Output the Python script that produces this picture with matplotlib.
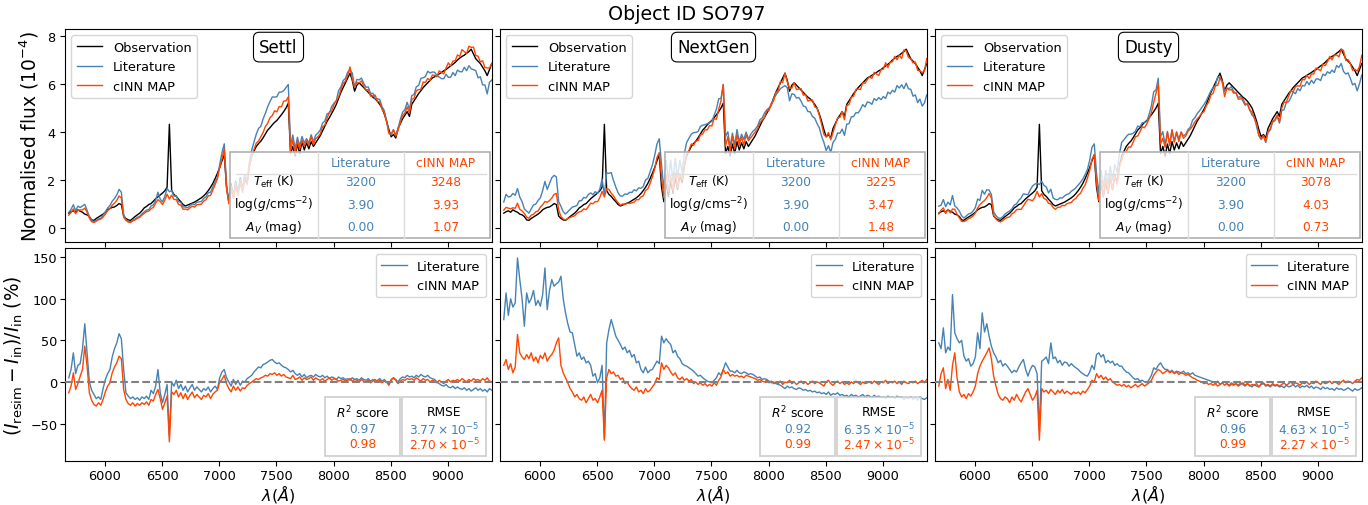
import numpy as np
import matplotlib
matplotlib.use("Agg")
import matplotlib.pyplot as plt
from matplotlib.patches import Rectangle
from matplotlib.lines import Line2D

# ---------------------------------------------------------------- data
# wavelength grid (Angstrom), 20 A steps
wavelength = np.arange(5683, 9384, 20)

# observed spectrum, normalised flux in units of 1e-4
obs_flux = [
    0.62, 0.68, 0.72, 0.66, 0.76, 0.70, 0.66, 0.58, 0.55, 0.48,
    0.34, 0.32, 0.40, 0.46, 0.52, 0.58, 0.66, 0.76, 0.82, 0.86,
    0.88, 0.94, 1.02, 0.98, 0.50, 0.40, 0.34, 0.32, 0.40, 0.48,
    0.55, 0.62, 0.72, 0.84, 0.90, 0.98, 1.02, 1.12, 1.22, 1.30,
    1.38, 1.46, 1.55, 1.70, 4.32, 1.56, 1.40, 1.32, 1.20, 1.10,
    0.98, 0.92, 0.96, 1.00, 1.04, 1.08, 1.14, 1.20, 1.26, 1.34,
    1.44, 1.56, 1.70, 1.86, 2.06, 2.28, 2.52, 2.80, 3.05, 1.70,
    1.10, 1.85, 1.30, 1.95, 1.45, 2.10, 1.60, 2.20, 1.90, 2.60,
    3.00, 3.20, 3.40, 3.52, 3.62, 3.76, 3.92, 4.08, 4.18, 4.30,
    4.40, 4.48, 4.60, 4.72, 4.85, 5.00, 5.20, 3.10, 3.40, 3.00,
    3.50, 3.10, 3.60, 3.25, 3.55, 3.30, 3.60, 3.40, 3.55, 3.70,
    3.85, 4.05, 4.25, 4.45, 4.60, 4.78, 4.95, 5.15, 5.40, 5.65,
    5.85, 6.05, 6.25, 6.45, 6.15, 5.70, 5.95, 6.05, 5.95, 5.85,
    5.75, 5.65, 5.55, 5.45, 5.38, 5.28, 5.15, 5.00, 4.75, 4.45,
    4.10, 3.80, 3.90, 3.75, 4.15, 4.35, 4.55, 4.70, 4.85, 4.65,
    5.15, 5.30, 5.45, 5.60, 5.72, 5.85, 5.95, 6.05, 6.15, 6.25,
    6.30, 6.36, 6.42, 6.48, 6.55, 6.60, 6.68, 6.75, 6.82, 6.90,
    7.00, 7.08, 7.15, 7.20, 7.28, 7.35, 7.45, 7.25, 7.05, 6.95,
    6.85, 6.70, 6.55, 6.35, 6.60, 6.85,
]

# relative residuals (I_resim - I_in) / I_in in percent
settl_lit_res = [
    5, 15, 35, 10, 20, 22, 40, 70, 35, 0,
    -10, -15, -20, -18, -21, -8, 3, 10, 15, 30,
    40, 47, 58, 52, 15, -13, -17, -20, -18, -21,
    -19, -22, -18, -20, -17, -21, -10, -14, -5, 15,
    -13, -25, -15, -3, -65, 0, -5, 2, -8, -3,
    -10, -5, -12, -7, -3, -10, -6, -9, -12, -8,
    -10, -6, -12, -8, -5, -9, 5, 12, 15, 5,
    0, -5, 3, -3, 2, -4, 1, 0, 4, 6,
    8, 12, 15, 18, 17, 21, 22, 24, 26, 27,
    24, 22, 23, 20, 18, 17, 15, 12, 14, 10,
    8, 10, 6, 9, 5, 7, 8, 6, 9, 7,
    6, 8, 5, 7, 4, 6, 5, 3, 6, 4,
    5, 3, 4, 2, 5, 3, 4, 2, 5, 3,
    2, 4, 1, 3, 0, 2, 4, 1, 3, 0,
    -3, 2, 5, 3, 0, 4, 6, 5, 8, 6,
    7, 5, 8, 6, 9, 7, 6, 8, 5, 4,
    3, 0, -2, -4, -5, -3, -6, -7, -5, -8,
    -6, -8, -9, -7, -10, -8, -11, -9, -7, -10,
    -8, -11, -9, -12, -8, -10,
]
settl_map_res = [
    -13, -5, 11, -9, -2, 7, 15, 43, 19, -13,
    -22, -27, -29, -25, -28, -21, -12, -5, -1, 11,
    18, 23, 31, 28, -9, -21, -26, -28, -25, -29,
    -26, -28, -25, -27, -24, -28, -21, -23, -15, -9,
    -20, -33, -25, -17, -72, -12, -15, -10, -18, -13,
    -20, -14, -21, -16, -12, -19, -15, -18, -21, -16,
    -18, -14, -20, -15, -12, -10, 0, 3, 8, -2,
    -8, -12, -5, -10, -6, -11, -7, -8, -4, -2,
    0, 2, 4, 3, 5, 6, 8, 7, 10, 9,
    11, 8, 10, 7, 9, 6, 5, 4, 8, 3,
    4, 6, 2, 5, 3, 4, 6, 2, 5, 3,
    2, 4, 1, 3, 5, 2, 4, 3, 1, 2,
    3, 1, 2, 4, 1, 3, 2, 0, 3, 1,
    0, 2, -1, 1, 3, 0, 2, -1, 1, 0,
    -4, 3, 5, 2, -2, 1, 3, 2, 4, 3,
    4, 2, 5, 3, 1, 4, 2, 3, 0, 2,
    1, -1, 2, 0, -2, 1, 3, 0, 2, 1,
    3, 1, 4, 2, 0, 3, 1, 4, 2, 3,
    1, 4, 2, 5, 1, 0,
]
nextgen_lit_res = [
    75, 107, 80, 100, 90, 95, 149, 123, 100, 67,
    107, 95, 100, 110, 92, 98, 91, 105, 137, 87,
    110, 123, 115, 118, 120, 127, 100, 83, 70, 60,
    59, 45, 31, 35, 27, 30, 23, 25, 20, 7,
    10, -1, 5, 20, -68, 47, 63, 75, 65, 55,
    50, 45, 39, 42, 35, 38, 30, 33, 23, 25,
    15, 11, 18, 11, 14, 15, 20, 25, 22, 55,
    47, 52, 48, 45, 35, 38, 31, 28, 22, 20,
    19, 17, 15, 13, 10, 7, 8, 5, 3, 1,
    0, -1, 2, 5, 11, 8, 15, 23, 18, 13,
    13, 11, 14, 11, 10, 12, 11, 9, 10, 9,
    7, 5, 6, 3, 4, 3, 1, -1, 0, -2,
    -3, -4, -6, -8, -5, -7, -6, -8, -9, -7,
    -8, -10, -9, -11, -10, -12, -11, -13, -12, -14,
    -13, -15, -12, -16, -14, -15, -13, -16, -15, -17,
    -16, -18, -15, -17, -16, -18, -17, -15, -18, -16,
    -17, -19, -16, -18, -17, -19, -18, -20, -17, -19,
    -18, -20, -17, -19, -18, -21, -19, -20, -18, -21,
    -19, -22, -18, -20, -21, -19,
]
nextgen_map_res = [
    20, 27, 15, 22, 11, 18, 57, 35, 30, 27,
    33, 28, 35, 25, 30, 23, 32, 28, 35, 25,
    30, 33, 38, 47, 53, 20, 11, 5, -1, -8,
    -12, -18, -15, -20, -22, -18, -25, -20, -15, -22,
    -20, -25, -18, -10, -70, 5, 15, 10, 12, 7,
    8, 3, 5, -2, 0, -5, -8, -10, -6, -12,
    -10, -14, -8, -12, -10, -6, -2, 5, 3, 23,
    15, 20, 17, 12, 8, 11, 5, 3, 6, 2,
    4, 1, 3, -2, 0, -3, -1, -4, -2, -5,
    -3, -5, -1, -4, 2, 6, 15, 10, 12, 7,
    9, 7, 8, 6, 7, 5, 8, 7, 6, 5,
    4, 2, 3, 1, 0, 2, -1, 1, -2, 0,
    -2, 1, -3, 0, -1, 2, -2, 0, -3, -1,
    1, -2, 0, -3, -1, 1, -2, 0, -1, -3,
    -5, 0, 2, -2, -4, -1, 1, -2, 0, -3,
    -1, -3, 0, -2, 1, -1, -3, 0, -2, -1,
    0, -2, 1, -1, -3, 0, -1, 2, -2, 0,
    -1, 1, -2, 0, -3, 1, -1, -2, 0, -1,
    1, -2, 0, 2, -1, 3,
]
dusty_lit_res = [
    47, 40, 65, 35, 42, 38, 105, 59, 52, 47,
    50, 31, 25, 28, 19, 22, 30, 59, 40, 83,
    60, 70, 55, 43, 35, 30, 23, 26, 19, 22,
    19, 15, 11, 14, 12, 18, 23, 27, 15, 7,
    15, 20, 18, 10, -58, 25, 27, 30, 22, 47,
    28, 30, 23, 26, 20, 24, 23, 19, 22, 19,
    17, 15, 12, 10, 8, 7, 12, 20, 15, 33,
    35, 30, 33, 23, 26, 23, 25, 20, 22, 19,
    19, 15, 12, 11, 8, 5, 3, 4, 1, 2,
    0, -1, 3, 8, 17, 15, 20, 23, 18, 15,
    15, 12, 14, 11, 13, 12, 11, 13, 10, 11,
    9, 11, 8, 7, 6, 5, 4, 3, 2, 1,
    0, -2, 1, -3, -1, 0, -2, -4, -1, -3,
    -2, -4, -1, -3, -5, -2, -4, -6, -3, -5,
    -6, -3, -2, -5, -4, -6, -3, -5, -4, -6,
    -5, -7, -4, -6, -5, -3, -6, -4, -7, -5,
    -6, -4, -7, -5, -8, -6, -7, -9, -6, -8,
    -7, -9, -8, -10, -7, -9, -8, -10, -9, -7,
    -9, -11, -8, -10, -9, -7,
]
dusty_map_res = [
    -5, 10, 17, -8, 3, -10, 20, 35, 5, -12,
    -18, -15, -20, -14, -17, -12, -5, 10, 19, 25,
    30, 35, 41, 28, 7, -5, -15, -20, -22, -18,
    -20, -25, -18, -22, -15, -20, -24, -18, -12, -8,
    -15, -22, -18, -10, -70, -8, -12, -10, -14, -9,
    -12, -15, -10, -13, -9, -14, -11, -13, -15, -12,
    -14, -12, -15, -11, -13, -9, -5, 2, 0, 10,
    5, 8, 3, 6, 2, 4, 0, -2, -4, -3,
    -5, -3, -6, -4, -7, -5, -3, -6, -4, -2,
    -5, -3, -1, 2, 8, 12, 15, 13, 10, 12,
    14, 11, 13, 10, 12, 9, 11, 10, 8, 9,
    7, 5, 4, 2, 1, 0, -2, -1, -3, -2,
    -4, -2, -5, -3, -1, -4, -2, -5, -3, -4,
    -2, -5, -3, -1, -4, -2, -5, -3, -4, -2,
    -6, -2, -1, -4, -3, -5, -2, -4, -3, -5,
    -3, -1, -4, -2, 0, -3, -1, -2, -4, -1,
    -2, 0, -3, -1, -2, 1, -1, -3, 0, -2,
    -1, 1, -2, 0, -1, -3, 0, 2, -1, 1,
    0, -2, 1, 3, 2, 5,
]

model_names = ["Settl", "NextGen", "Dusty"]
lit_residuals = [settl_lit_res, nextgen_lit_res, dusty_lit_res]
map_residuals = [settl_map_res, nextgen_map_res, dusty_map_res]

# stellar parameters
lit_teff = [3200, 3200, 3200]
lit_logg = [3.90, 3.90, 3.90]
lit_av = [0.00, 0.00, 0.00]
map_teff = [3248, 3225, 3078]
map_logg = [3.93, 3.47, 4.03]
map_av = [1.07, 1.48, 0.73]

# goodness of fit
r2_lit = [0.97, 0.92, 0.96]
r2_map = [0.98, 0.99, 0.99]
rmse_lit = [3.77, 6.35, 4.63]   # x 1e-5
rmse_map = [2.70, 2.47, 2.27]   # x 1e-5

# ---------------------------------------------------------------- style
C_OBS = "black"
C_LIT = "steelblue"
C_MAP = "orangered"
FS = 9.3

plt.rcParams["font.family"] = "DejaVu Sans"
plt.rcParams["mathtext.fontset"] = "dejavusans"

fig = plt.figure(figsize=(13.68, 5.06), dpi=100)
W, H = 1368.0, 506.0
col_left = [65, 500, 935]
col_w = 427
top_row = (30, 243)
bot_row = (249, 462)


def frac_box(x0, y0, x1, y1):
    return [x0 / W, 1 - y1 / H, (x1 - x0) / W, (y1 - y0) / H]


obs = np.array(obs_flux)
wl = wavelength

top_axes, bot_axes = [], []
for i in range(3):
    kw_t, kw_b = {}, {}
    if i > 0:
        kw_t = dict(sharex=top_axes[0], sharey=top_axes[0])
        kw_b = dict(sharex=top_axes[0], sharey=bot_axes[0])
    axt = fig.add_axes(frac_box(col_left[i], top_row[0], col_left[i] + col_w, top_row[1]), **kw_t)
    if i == 0:
        kw_b = dict(sharex=axt)
    axb = fig.add_axes(frac_box(col_left[i], bot_row[0], col_left[i] + col_w, bot_row[1]), **kw_b)
    top_axes.append(axt)
    bot_axes.append(axb)


def draw_table(ax, i):
    x0, x1, y0, y1 = 0.386, 0.995, 0.019, 0.423
    ax.add_patch(Rectangle((x0, y0), x1 - x0, y1 - y0, transform=ax.transAxes,
                           facecolor="white", alpha=0.8, edgecolor="none", zorder=5))
    ax.add_patch(Rectangle((x0, y0), x1 - x0, y1 - y0, transform=ax.transAxes,
                           fill=False, edgecolor="#b0b0b0", lw=1.2, zorder=6))
    for xv in (0.593, 0.794):
        ax.add_line(Line2D([xv, xv], [y0, y1], transform=ax.transAxes,
                           color="#dcdcdc", lw=1.0, zorder=6))
    ax.add_line(Line2D([0.40, 0.985], [0.319, 0.319], transform=ax.transAxes,
                       color="#dcdcdc", lw=1.0, zorder=6))
    cx = [0.489, 0.693, 0.892]
    ys = [0.371, 0.286, 0.178, 0.075]
    kw = dict(transform=ax.transAxes, ha="center", va="center", fontsize=8.8, zorder=7)
    ax.text(cx[1], ys[0], "Literature", color=C_LIT, **kw)
    ax.text(cx[2], ys[0], "cINN MAP", color=C_MAP, **kw)
    labels = [r"$T_{\rm eff}$ (K)", r"log($g$/cms$^{-2}$)", r"$A_V$ (mag)"]
    lit_vals = [f"{lit_teff[i]:d}", f"{lit_logg[i]:.2f}", f"{lit_av[i]:.2f}"]
    map_vals = [f"{map_teff[i]:d}", f"{map_logg[i]:.2f}", f"{map_av[i]:.2f}"]
    for r in range(3):
        ax.text(cx[0], ys[r + 1], labels[r], color="black", **kw)
        ax.text(cx[1], ys[r + 1], lit_vals[r], color=C_LIT, **kw)
        ax.text(cx[2], ys[r + 1], map_vals[r], color=C_MAP, **kw)


def draw_scores(ax, i):
    boxes = [(0.609, 0.785), (0.790, 0.987)]
    y0, y1 = 0.023, 0.300
    for bx0, bx1 in boxes:
        ax.add_patch(Rectangle((bx0, y0), bx1 - bx0, y1 - y0, transform=ax.transAxes,
                               facecolor="white", alpha=0.8, edgecolor="#c0c0c0",
                               lw=1.2, zorder=5))
    kw = dict(transform=ax.transAxes, ha="center", va="center", fontsize=8.8, zorder=7)
    c1 = (boxes[0][0] + boxes[0][1]) / 2
    c2 = (boxes[1][0] + boxes[1][1]) / 2
    ax.text(c1, 0.232, r"$R^2$ score", color="black", **kw)
    ax.text(c1, 0.152, f"{r2_lit[i]:.2f}", color=C_LIT, **kw)
    ax.text(c1, 0.082, f"{r2_map[i]:.2f}", color=C_MAP, **kw)
    ax.text(c2, 0.232, "RMSE", color="black", **kw)
    ax.text(c2, 0.152, rf"${rmse_lit[i]:.2f}\times10^{{-5}}$", color=C_LIT, **kw)
    ax.text(c2, 0.082, rf"${rmse_map[i]:.2f}\times10^{{-5}}$", color=C_MAP, **kw)


for i in range(3):
    axt, axb = top_axes[i], bot_axes[i]
    lit_r = np.array(lit_residuals[i], dtype=float)
    map_r = np.array(map_residuals[i], dtype=float)
    lit_flux = obs * (1 + lit_r / 100.0)
    map_flux = obs * (1 + map_r / 100.0)

    axt.plot(wl, obs, color=C_OBS, lw=1.0, label="Observation")
    axt.plot(wl, lit_flux, color=C_LIT, lw=1.0, label="Literature")
    axt.plot(wl, map_flux, color=C_MAP, lw=1.0, label="cINN MAP")
    axt.legend(loc="upper left", fontsize=FS, handlelength=2.0)
    axt.text(0.5, 0.915, model_names[i], transform=axt.transAxes, ha="center",
             va="center", fontsize=12,
             bbox=dict(boxstyle="round,pad=0.35", facecolor="white", edgecolor="black", lw=0.8))
    draw_table(axt, i)

    axb.plot(wl, lit_r, color=C_LIT, lw=1.0, label="Literature")
    axb.plot(wl, map_r, color=C_MAP, lw=1.0, label="cINN MAP")
    axb.axhline(0, color="gray", ls="--", lw=1.5, zorder=3)
    axb.legend(loc="upper right", fontsize=FS, handlelength=2.0)
    draw_scores(axb, i)
    axb.set_xlabel(r"$\lambda(\AA)$", fontsize=11.5, va="bottom")
    axb.xaxis.set_label_coords(0.5, -(505 - bot_row[1]) / (bot_row[1] - bot_row[0]))

    axt.tick_params(labelsize=FS, labelbottom=False)
    axb.tick_params(labelsize=FS, pad=2.0)
    if i > 0:
        axt.tick_params(labelleft=False)
        axb.tick_params(labelleft=False)

top_axes[0].set_xlim(5650, 9385)
top_axes[0].set_xticks([6000, 6500, 7000, 7500, 8000, 8500, 9000])
top_axes[0].set_ylim(-0.58, 8.29)
top_axes[0].set_yticks([0, 2, 4, 6, 8])
bot_axes[0].set_ylim(-95, 161)
bot_axes[0].set_yticks([-50, 0, 50, 100, 150])

top_axes[0].set_ylabel(r"Normalised flux ($10^{-4}$)", fontsize=13.4)
bot_axes[0].set_ylabel(r"$(I_{\rm resim} - I_{\rm in})/I_{\rm in}$ (%)", fontsize=13.4)

fig.suptitle("Object ID SO797", fontsize=13.7, x=0.502, y=0.99, va="top")

fig.savefig("out.png", dpi=100)
